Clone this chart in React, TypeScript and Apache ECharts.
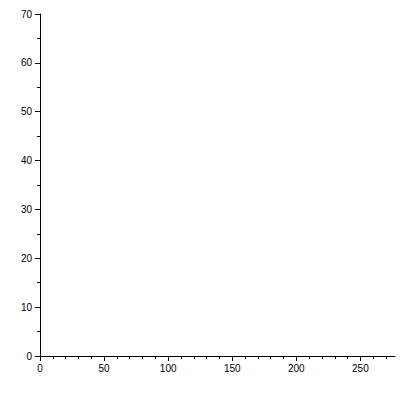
import React, { useEffect, useRef } from "react";
import * as echarts from "echarts";

const xMajorTicks = [0, 50, 100, 150, 200, 250];
const xMinorTicks = [10, 20, 30, 40, 60, 70, 80, 90, 110, 120, 130, 140, 160, 170, 180, 190, 210, 220, 230, 240, 260, 270];
const xMin = 0;
const xMax = 277;
const yMin = 0;
const yMax = 70;
const yInterval = 10;

const FONT = "'Liberation Sans', Arial, sans-serif";

export default function App() {
  const ref = useRef<HTMLDivElement>(null);
  useEffect(() => {
    if (!ref.current) return;
    const chart = echarts.init(ref.current, undefined, { renderer: "svg" });
    chart.setOption({
      animation: false,
      backgroundColor: "#ffffff",
      grid: { left: 40, top: 14, right: 5, bottom: 44, containLabel: false },
      xAxis: [
        {
          type: "value",
          min: xMin,
          max: xMax,
          position: "bottom",
          axisLine: { show: true, onZero: false, lineStyle: { color: "#000", width: 1 } },
          axisTick: { show: true, length: 5, customValues: xMajorTicks, lineStyle: { color: "#000" } },
          axisLabel: { show: true, customValues: xMajorTicks, margin: 7, color: "#000", fontSize: 10, fontFamily: FONT },
          splitLine: { show: false },
        },
        {
          type: "value",
          min: xMin,
          max: xMax,
          position: "bottom",
          axisLine: { show: false, onZero: false },
          axisTick: { show: true, length: 3, customValues: xMinorTicks, lineStyle: { color: "#000" } },
          axisLabel: { show: false },
          splitLine: { show: false },
        },
      ],
      yAxis: {
        type: "value",
        min: yMin,
        max: yMax,
        interval: yInterval,
        axisLine: { show: true, onZero: false, lineStyle: { color: "#000", width: 1 } },
        axisTick: { show: true, length: 5, lineStyle: { color: "#000" } },
        minorTick: { show: true, splitNumber: 2, length: 3, lineStyle: { color: "#000" } },
        axisLabel: { margin: 8, color: "#000", fontSize: 10, fontFamily: FONT },
        splitLine: { show: false },
      },
      series: [],
    });
    return () => chart.dispose();
  }, []);
  return (
    <div
      ref={ref}
      style={{ position: "fixed", left: 0, top: 0, width: 400, height: 400, background: "#fff" }}
    />
  );
}
